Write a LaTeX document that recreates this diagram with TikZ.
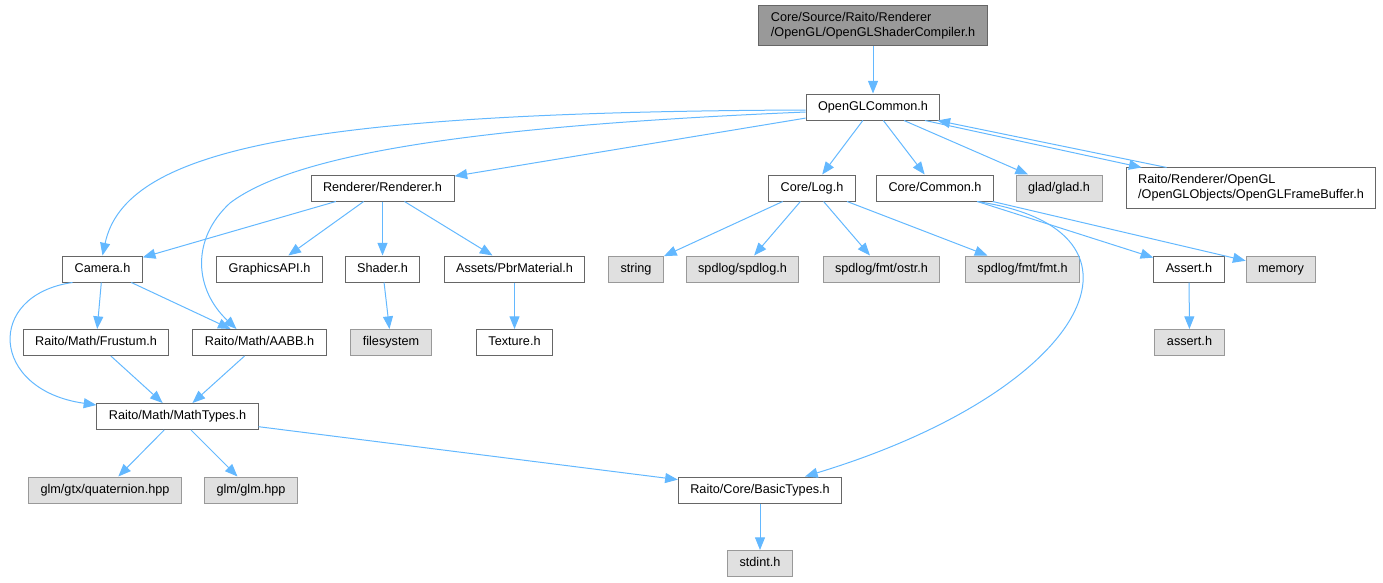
\documentclass[tikz,border=0pt]{standalone}
\usepackage{fontspec}
\setmainfont{Liberation Sans}
\usetikzlibrary{arrows.meta,calc}
\definecolor{edgeblue}{HTML}{63B8FF}
\definecolor{boxline}{HTML}{666666}
\definecolor{sysline}{HTML}{999999}
\definecolor{sysfill}{HTML}{E0E0E0}
\definecolor{curfill}{HTML}{999999}

\begin{document}
\begin{tikzpicture}[x=0.75pt, y=-0.75pt,
        every node/.style={font=\fontsize{9.5}{11.2}\selectfont, inner xsep=9pt, inner ysep=3pt, minimum height=19.5pt, line width=0.75pt},
        hdr/.style={draw=boxline, fill=white, text height=7pt, text depth=2.2pt},
        sys/.style={draw=sysline, fill=sysfill, text height=7pt, text depth=2.2pt},
        cur/.style={draw=boxline, fill=curfill, align=left, inner ysep=5pt},
        wide/.style={draw=boxline, fill=white, align=left, inner ysep=5pt},
        inc/.style={draw=edgeblue, line width=0.75pt, -{Triangle[length=9.5pt, width=7.5pt]}}]
            \useasboundingbox (0, 0) rectangle (1383, 582);
            % files
            \node[cur] (top) at (873, 25.5) {Core/Source/Raito/Renderer\\/OpenGL/OpenGLShaderCompiler.h};
            \node[hdr] (ogl) at (873, 107) {OpenGLCommon.h};
            \node[hdr] (rend) at (382.5, 188) {Renderer/Renderer.h};
            \node[hdr] (log) at (812, 188) {Core/Log.h};
            \node[hdr] (common) at (935, 188) {Core/Common.h};
            \node[sys] (glad) at (1059, 188) {glad/glad.h};
            \node[wide] (fb) at (1251, 188) {Raito/Renderer/OpenGL\\/OpenGLObjects/OpenGLFrameBuffer.h};
            \node[hdr] (cam) at (102.5, 269) {Camera.h};
            \node[hdr] (gapi) at (269.5, 269) {GraphicsAPI.h};
            \node[hdr] (shader) at (382.5, 269) {Shader.h};
            \node[hdr] (pbr) at (514.5, 269) {Assets/PbrMaterial.h};
            \node[sys] (str) at (636, 269) {string};
            \node[sys] (spd) at (742.5, 269) {spdlog/spdlog.h};
            \node[sys] (ostr) at (881.5, 269) {spdlog/fmt/ostr.h};
            \node[sys] (fmt) at (1022.5, 269) {spdlog/fmt/fmt.h};
            \node[hdr] (asrt) at (1189, 269) {Assert.h};
            \node[sys] (mem) at (1281, 269) {memory};
            \node[hdr] (frus) at (96, 342.5) {Raito/Math/Frustum.h};
            \node[hdr] (aabb) at (259.5, 342.5) {Raito/Math/AABB.h};
            \node[sys] (fs) at (391, 342.5) {filesystem};
            \node[hdr] (tex) at (514.5, 342.5) {Texture.h};
            \node[sys] (asrth) at (1189.5, 342.5) {assert.h};
            \node[hdr] (math) at (177.5, 416.5) {Raito/Math/MathTypes.h};
            \node[sys] (quat) at (105, 490) {glm/gtx/quaternion.hpp};
            \node[sys] (glm) at (251, 490) {glm/glm.hpp};
            \node[hdr] (basic) at (760, 490) {Raito/Core/BasicTypes.h};
            \node[sys] (stdint) at (760, 563.5) {stdint.h};
            % includes
            \draw[inc] (top) -- (ogl);
            \draw[inc] ($(ogl.west)+(0,3)$) .. controls (300, 112) and (125, 150) .. (cam.north);
            \draw[inc] ($(ogl.west)+(0,5)$) .. controls (500, 125) and (300, 150) .. (230, 203) .. controls (190, 240) and (195, 290) .. ($(aabb.north)+(-23,0)$);
            \draw[inc] (ogl) -- (rend);
            \draw[inc] (ogl) -- (log);
            \draw[inc] (ogl) -- (common);
            \draw[inc] (ogl) -- (glad);
            \draw[inc] ($(ogl.south)+(52,0)$) -- ($(fb.north west)+(16,0)$);
            \draw[inc] ($(fb.north west)+(41,0)$) -- ($(ogl.south east)+(-3,0)$);
            \draw[inc] (rend) -- (cam);
            \draw[inc] (rend) -- (gapi);
            \draw[inc] (rend) -- (shader);
            \draw[inc] (rend) -- (pbr);
            \draw[inc] (shader) -- (fs);
            \draw[inc] (pbr) -- (tex);
            \draw[inc] (log) -- (str);
            \draw[inc] (log) -- (spd);
            \draw[inc] (log) -- (ostr);
            \draw[inc] (log) -- (fmt);
            \draw[inc] (common) -- (asrt);
            \draw[inc] (common) -- (mem);
            \draw[inc] ($(common.south)+(42,0)$) .. controls (1170, 230) and (1090, 390) .. ($(basic.north)+(45,0)$);
            \draw[inc] (asrt) -- (asrth);
            \draw[inc] (cam) -- (frus);
            \draw[inc] (cam) -- (aabb);
            \draw[inc] ($(cam.south)+(-30,0)$) .. controls (-15, 295) and (-10, 390) .. ($(math.north west)+(0,2)$);
            \draw[inc] (frus) -- (math);
            \draw[inc] (aabb) -- (math);
            \draw[inc] (math) -- (quat);
            \draw[inc] (math) -- (glm);
            \draw[inc] (math) -- (basic);
            \draw[inc] (basic) -- (stdint);
\end{tikzpicture}
\end{document}
